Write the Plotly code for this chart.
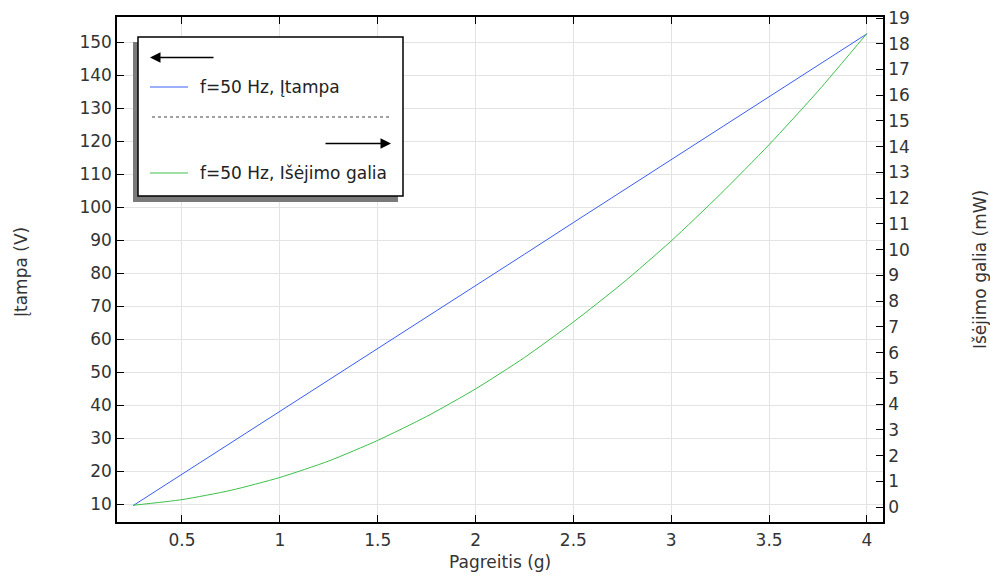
import plotly.graph_objects as go

# Acceleration (g)
accel = [0.25, 0.5, 0.75, 1.0, 1.25, 1.5, 1.75, 2.0, 2.25, 2.5, 2.75, 3.0, 3.25, 3.5, 3.75, 4.0]
# Voltage (V)
voltage = [9.5, 19.0, 28.6, 38.1, 47.6, 57.2, 66.7, 76.2, 85.7, 95.3, 104.8, 114.3, 123.9, 133.4, 142.9, 152.5]
# Output power (mW)
power = [0.07, 0.29, 0.65, 1.15, 1.79, 2.59, 3.52, 4.59, 5.81, 7.19, 8.69, 10.34, 12.15, 14.08, 16.16, 18.4]

label_v = "f=50 Hz, Įtampa"
label_p = "f=50 Hz, Išėjimo galia"

W, H = 990, 576
L, R, T, B = 117, 883, 17, 522
FONT = "DejaVu Sans"
FS = 17
TXT = "#333333"
BLUE = "#3a5cf5"
GREEN = "#3cc04a"


def px(x):
    return (x - L) / (R - L)


def py(y):
    return (B - y) / (B - T)


fig = go.Figure()
fig.add_trace(go.Scatter(x=accel, y=voltage, mode="lines", name=label_v,
                         line=dict(color=BLUE, width=1), yaxis="y"))
fig.add_trace(go.Scatter(x=accel, y=power, mode="lines", name=label_p,
                         line=dict(color=GREEN, width=1, shape="spline", smoothing=0.6),
                         yaxis="y2"))

axis_common = dict(
    showline=True, linecolor="black", linewidth=1.5,
    ticks="inside", ticklen=7, tickcolor="black", tickwidth=1,
    tickfont=dict(family=FONT, size=FS, color=TXT),
    zeroline=False, automargin=False,
)

fig.update_layout(
    width=W, height=H,
    margin=dict(l=L, r=W - R, t=T, b=H - B),
    paper_bgcolor="white", plot_bgcolor="white",
    showlegend=False,
    font=dict(family=FONT, size=FS, color=TXT),
    xaxis=dict(range=[0.168, 4.082], tick0=0.5, dtick=0.5, mirror="ticks",
               ticklabelstandoff=2,
               showgrid=True, gridcolor="#e3e3e3", gridwidth=1, **axis_common),
    yaxis=dict(range=[4.55, 157.6], tick0=10, dtick=10,
               showgrid=True, gridcolor="#e3e3e3", gridwidth=1, **axis_common),
    yaxis2=dict(range=[-0.58, 19.04], tick0=0, dtick=1, overlaying="y", side="right",
                showgrid=False, **axis_common),
)

# Axis titles
fig.add_annotation(text="Pagreitis (g)", x=px(500), y=py(562), xref="paper", yref="paper",
                   xanchor="center", yanchor="middle", showarrow=False,
                   font=dict(family=FONT, size=FS, color=TXT))
fig.add_annotation(text="Įtampa (V)", x=px(21), y=py(272), xref="paper", yref="paper",
                   xanchor="center", yanchor="middle", showarrow=False, textangle=-90,
                   font=dict(family=FONT, size=FS, color=TXT))
fig.add_annotation(text="Išėjimo galia (mW)", x=px(980), y=py(270), xref="paper", yref="paper",
                   xanchor="center", yanchor="middle", showarrow=False, textangle=-90,
                   font=dict(family=FONT, size=FS, color=TXT))

# Legend box with drop shadow
fig.add_shape(type="rect", xref="paper", yref="paper", layer="above",
              x0=px(133), x1=px(398), y0=py(202), y1=py(42),
              fillcolor="#7a7a7a", line=dict(width=0))
fig.add_shape(type="rect", xref="paper", yref="paper", layer="above",
              x0=px(138), x1=px(403), y0=py(196), y1=py(37),
              fillcolor="white", line=dict(color="black", width=1.5))

# Left arrow (left axis)
fig.add_annotation(x=px(150), y=py(57.5), xref="paper", yref="paper", text="",
                   showarrow=True, ax=65, ay=0, arrowhead=2, arrowsize=1.4,
                   arrowwidth=1.5, arrowcolor="black")
# Voltage entry
fig.add_shape(type="line", xref="paper", yref="paper", layer="above",
              x0=px(150), x1=px(188), y0=py(87), y1=py(87),
              line=dict(color=BLUE, width=1))
fig.add_annotation(text=label_v, x=px(198), y=py(87), xref="paper", yref="paper",
                   xanchor="left", yanchor="middle", showarrow=False,
                   font=dict(family=FONT, size=FS, color="#222222"))
# Separator
fig.add_shape(type="line", xref="paper", yref="paper", layer="above",
              x0=px(152), x1=px(391), y0=py(117), y1=py(117),
              line=dict(color="#444444", width=1, dash="dot"))
# Right arrow (right axis)
fig.add_annotation(x=px(391), y=py(143.5), xref="paper", yref="paper", text="",
                   showarrow=True, ax=-67, ay=0, arrowhead=2, arrowsize=1.4,
                   arrowwidth=1.5, arrowcolor="black")
# Power entry
fig.add_shape(type="line", xref="paper", yref="paper", layer="above",
              x0=px(150), x1=px(188), y0=py(173), y1=py(173),
              line=dict(color=GREEN, width=1))
fig.add_annotation(text=label_p, x=px(198), y=py(173), xref="paper", yref="paper",
                   xanchor="left", yanchor="middle", showarrow=False,
                   font=dict(family=FONT, size=FS, color="#222222"))

fig.write_html("out.html")
